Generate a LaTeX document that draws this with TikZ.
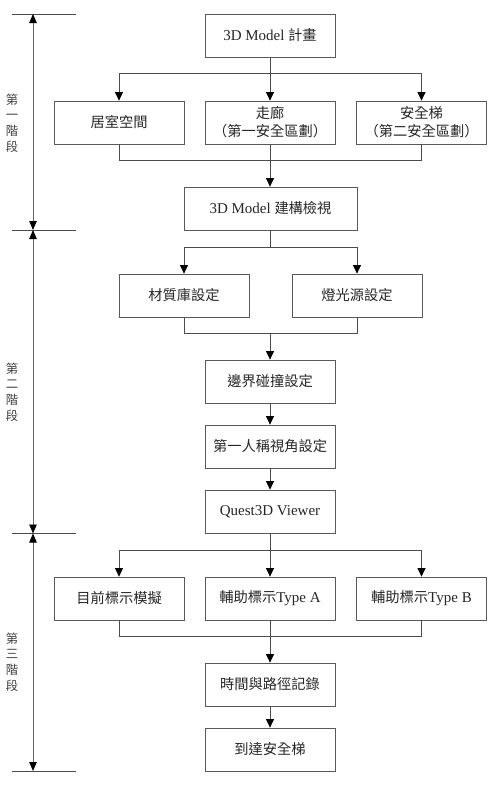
\documentclass[tikz,border=0pt]{standalone}
\usepackage{fontspec}
\setmainfont{Liberation Serif}
\newfontfamily\cjk{Noto Sans CJK TC}[Scale=0.95]
\usetikzlibrary{arrows.meta}
\newcommand\zh[1]{{\cjk #1}}
\begin{document}
\begin{tikzpicture}[x=1pt,y=-1pt,
  box/.style={draw=black!65,line width=0.8pt,minimum width=130pt,minimum height=43pt,inner sep=0pt,align=center,font=\fontsize{15}{18}\selectfont,text=black!85},
  zbox/.style={box,font=\fontsize{15}{18}\selectfont\cjk},
  ln/.style={draw=black!70,line width=0.8pt},
  arr/.style={ln,-{Triangle[width=8pt,length=8.5pt,color=black]}},
  stg/.style={align=center,font=\fontsize{13}{15.7}\selectfont\cjk,text=black!75,inner sep=0pt},
  dimarrow/.style={draw=black!60,line width=0.8pt,{Triangle[width=7.5pt,length=9pt,color=black]}-{Triangle[width=7.5pt,length=9pt,color=black]}}
]
\useasboundingbox (0,0) rectangle (495,790);

% boxes
\node[box] (plan) at (270,35.5) {3D Model \zh{計畫}};
\node[zbox] (room) at (119,122.5) {居室空間};
\node[zbox] (hall) at (270,122.5) {走廊\\（第一安全區劃）};
\node[zbox] (stair) at (421.5,122.5) {安全梯\\（第二安全區劃）};
\node[box,minimum width=173pt] (check) at (270.5,208.5) {3D Model \zh{建構檢視}};
\node[zbox] (mat) at (184,295.5) {材質庫設定};
\node[zbox] (light) at (357,295.5) {燈光源設定};
\node[zbox] (coll) at (270,381.5) {邊界碰撞設定};
\node[zbox] (fp) at (270,446.5) {第一人稱視角設定};
\node[box] (q3d) at (270,511.5) {Quest3D Viewer};
\node[zbox] (cur) at (119,598.5) {目前標示模擬};
\node[box] (ta) at (270,598.5) {\zh{輔助標示}Type A};
\node[box] (tb) at (421.5,598.5) {\zh{輔助標示}Type B};
\node[zbox] (rec) at (270,684.5) {時間與路徑記錄};
\node[zbox] (arrive) at (270,749.5) {到達安全梯};

% junction points
\coordinate (s1) at (270,73);
\coordinate (m1) at (270,160);
\coordinate (s2) at (270,247);
\coordinate (m2) at (270,333);
\coordinate (s3) at (270,550);
\coordinate (m3) at (270,636);

% stage 1
\draw[ln] (plan.south) -- (s1);
\draw[arr] (s1) -| (room.north);
\draw[arr] (s1) -| (stair.north);
\draw[arr] (s1) -- (hall.north);
\draw[ln] (room.south) |- (m1);
\draw[ln] (stair.south) |- (m1);
\draw[arr] (hall.south) -- (check.north -| hall.south);

% stage 2
\draw[ln] (check.south -| s2) -- (s2);
\draw[arr] (s2) -| (mat.north);
\draw[arr] (s2) -| (light.north);
\draw[ln] (mat.south) |- (m2);
\draw[ln] (light.south) |- (m2);
\draw[arr] (m2) -- (coll.north);
\draw[arr] (coll.south) -- (fp.north);
\draw[arr] (fp.south) -- (q3d.north);

% stage 3
\draw[ln] (q3d.south) -- (s3);
\draw[arr] (s3) -| (cur.north);
\draw[arr] (s3) -| (tb.north);
\draw[arr] (s3) -- (ta.north);
\draw[ln] (cur.south) |- (m3);
\draw[ln] (tb.south) |- (m3);
\draw[arr] (ta.south) -- (rec.north);
\draw[arr] (rec.south) -- (arrive.north);

% stage markers
\coordinate (L0) at (12,14);    \coordinate (R0) at (76,14);
\coordinate (L1) at (12,230);   \coordinate (R1) at (76,230);
\coordinate (L2) at (12,533.5); \coordinate (R2) at (76,533.5);
\coordinate (L3) at (12,771);   \coordinate (R3) at (76,771);
\coordinate (A0) at (33,14);
\coordinate (A1) at (33,230);
\coordinate (A2) at (33,533.5);
\coordinate (A3) at (33,771);
\draw[ln] (L0) -- (R0);
\draw[ln] (L1) -- (R1);
\draw[ln] (L2) -- (R2);
\draw[ln] (L3) -- (R3);
\draw[dimarrow] (A0) -- (A1);
\draw[dimarrow] (A1) -- (A2);
\draw[dimarrow] (A2) -- (A3);

\node[stg] (st1) at (12,123) {第\\一\\階\\段};
\node[stg] (st2) at (12,392) {第\\二\\階\\段};
\node[stg] (st3) at (12,662) {第\\三\\階\\段};
\end{tikzpicture}
\end{document}
